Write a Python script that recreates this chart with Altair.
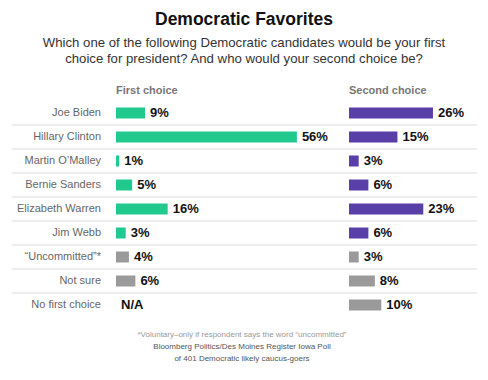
import altair as alt
import pandas as pd

candidates = ["Joe Biden", "Hillary Clinton", "Martin O\u2019Malley", "Bernie Sanders",
              "Elizabeth Warren", "Jim Webb", "\u201cUncommitted\u201d*", "Not sure",
              "No first choice"]
first_choice = [9, 56, 1, 5, 16, 3, 4, 6, None]
second_choice = [26, 15, 3, 6, 23, 6, 3, 8, 10]
kind = ["candidate"] * 6 + ["other"] * 3

title_text = "Democratic Favorites"
subtitle_lines = ["Which one of the following Democratic candidates would be your first",
                  "choice for president? And who would your second choice be?"]
footnote_lines = ["*Voluntary\u2013only if respondent says the word \u201cuncommitted\u201d",
                  "Bloomberg Politics/Des Moines Register Iowa Poll",
                  "of 401 Democratic likely caucus-goers"]
headers = ["First choice", "Second choice"]

df = pd.DataFrame({
    "candidate": candidates,
    "first": [v if v is not None else 0 for v in first_choice],
    "first_label": [f"{v}%" if v is not None else "N/A" for v in first_choice],
    "second": second_choice,
    "second_label": [f"{v}%" for v in second_choice],
    "kind": kind,
    "row": list(range(len(candidates))),
})

GREEN = "#22c98f"
PURPLE = "#5a3fa9"
GRAY = "#9a9a9a"
FONT = "Liberation Sans"

W, H = 472, 364
yscale = alt.Scale(domain=candidates, range=[93, 309], paddingInner=0, paddingOuter=0)
Y = alt.Y("candidate:N", scale=yscale, axis=None, sort=candidates)

x1 = alt.X("first:Q", scale=alt.Scale(domain=[0, 100], range=[108, 431]), axis=None)
x2 = alt.X("second:Q", scale=alt.Scale(domain=[0, 100], range=[341, 664]), axis=None)

base = alt.Chart(df)

bars1 = base.mark_bar(height=11).encode(
    x=x1, y=Y,
    color=alt.condition(alt.datum.kind == "candidate", alt.value(GREEN), alt.value(GRAY)),
)
text1 = base.mark_text(align="left", baseline="middle", dx=5, font=FONT,
                       fontSize=13, fontWeight="bold", color="#111").encode(
    x=x1, y=Y, text="first_label:N")
left = alt.layer(bars1, text1)

bars2 = base.mark_bar(height=11).encode(
    x=x2, y=Y,
    color=alt.condition(alt.datum.kind == "candidate", alt.value(PURPLE), alt.value(GRAY)),
)
text2 = base.mark_text(align="left", baseline="middle", dx=5, font=FONT,
                       fontSize=13, fontWeight="bold", color="#111").encode(
    x=x2, y=Y, text="second_label:N")
right = alt.layer(bars2, text2)

names = base.mark_text(align="right", baseline="middle", font=FONT, fontSize=11,
                       color="#666").encode(
    x=alt.value(93), y=Y, text="candidate:N")

rules = base.transform_filter(alt.datum.row < len(candidates) - 1).mark_rule(
    color="#dcdcdc", strokeWidth=1, yOffset=12).encode(
    x=alt.value(4), x2=alt.value(469), y=Y)

hdr1 = alt.Chart(pd.DataFrame({"t": [headers[0]]})).mark_text(
    align="left", baseline="middle", font=FONT, fontSize=11, fontWeight=600,
    color="#777").encode(x=alt.value(108), y=alt.value(83), text="t:N")
hdr2 = alt.Chart(pd.DataFrame({"t": [headers[1]]})).mark_text(
    align="left", baseline="middle", font=FONT, fontSize=11, fontWeight=600,
    color="#777").encode(x=alt.value(341), y=alt.value(83), text="t:N")

title = alt.Chart(pd.DataFrame({"t": [title_text]})).mark_text(
    align="center", baseline="middle", font=FONT, fontSize=17.5, fontWeight="bold",
    color="#111").encode(x=alt.value(236), y=alt.value(12), text="t:N")
sub1 = alt.Chart(pd.DataFrame({"t": [subtitle_lines[0]]})).mark_text(
    align="center", baseline="middle", font=FONT, fontSize=13.2, color="#333").encode(
    x=alt.value(236), y=alt.value(35), text="t:N")
sub2 = alt.Chart(pd.DataFrame({"t": [subtitle_lines[1]]})).mark_text(
    align="center", baseline="middle", font=FONT, fontSize=13.2, color="#333").encode(
    x=alt.value(236), y=alt.value(51), text="t:N")

foot1 = alt.Chart(pd.DataFrame({"t": [footnote_lines[0]]})).mark_text(
    align="center", baseline="middle", font=FONT, fontSize=8, color="#999").encode(
    x=alt.value(234), y=alt.value(327), text="t:N")
foot2 = alt.Chart(pd.DataFrame({"t": [footnote_lines[1]]})).mark_text(
    align="center", baseline="middle", font=FONT, fontSize=8, color="#555").encode(
    x=alt.value(234), y=alt.value(339), text="t:N")
foot3 = alt.Chart(pd.DataFrame({"t": [footnote_lines[2]]})).mark_text(
    align="center", baseline="middle", font=FONT, fontSize=8, color="#555").encode(
    x=alt.value(234), y=alt.value(351), text="t:N")

chart = alt.layer(
    rules, left, right, names, hdr1, hdr2, title, sub1, sub2, foot1, foot2, foot3
).resolve_scale(x="independent").properties(
    width=W, height=H, padding=0, autosize=alt.AutoSizeParams(type="none")
).configure_view(stroke=None)

chart.save("out.html", embed_options={"renderer": "svg", "actions": False})
